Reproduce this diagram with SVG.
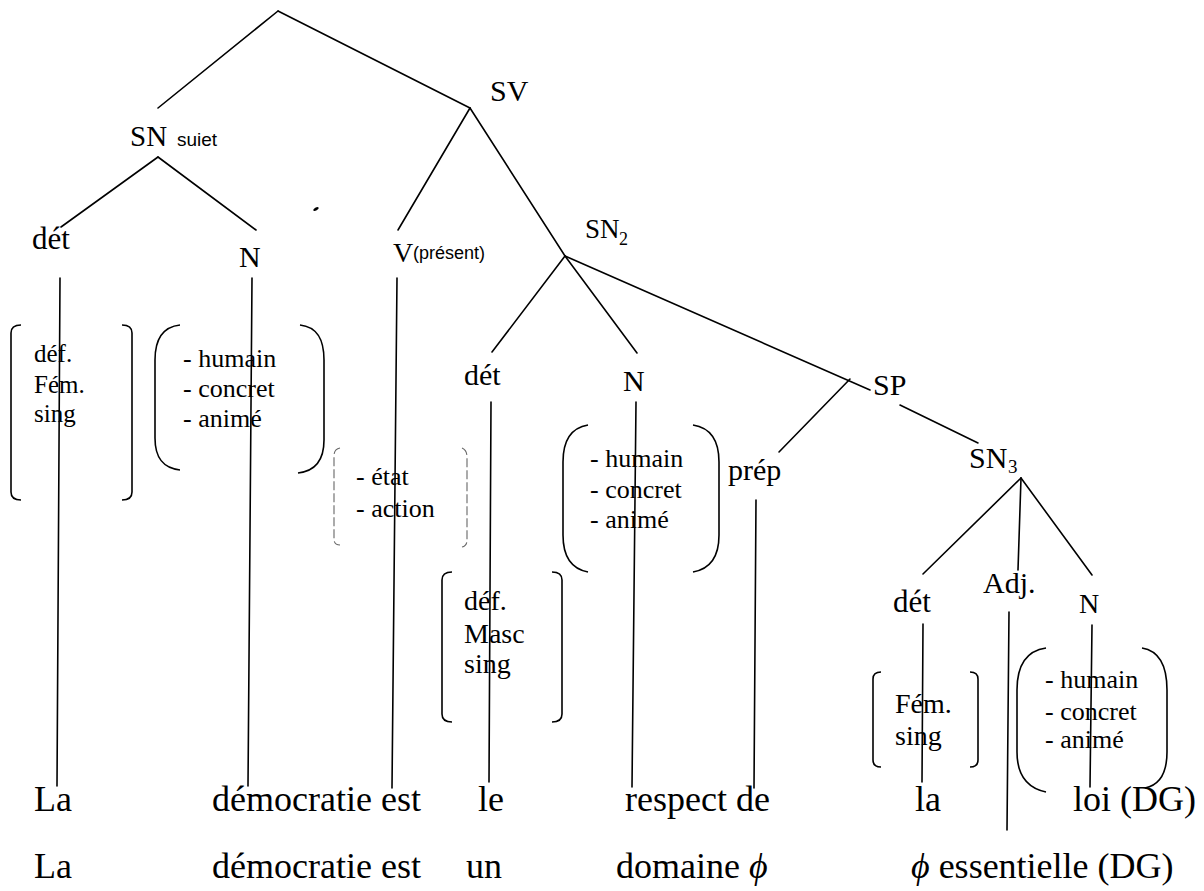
<svg xmlns="http://www.w3.org/2000/svg" width="1204" height="891" viewBox="0 0 1204 891">
<style>
text{font-family:"Liberation Serif","Times New Roman",serif;fill:#000}
.lb{font-size:30px}
.sans{font-family:"Liberation Sans",Arial,sans-serif}
.w{font-size:36px}
.f{font-size:26px}
.ln{stroke:#000;stroke-width:1.6;fill:none;stroke-linecap:round}
.br{stroke:#000;stroke-width:1.6;fill:none}
.dash{stroke:#666;stroke-width:1.1;fill:none;stroke-dasharray:9 3}
</style>
<rect width="1204" height="891" fill="#fff"/>
<g id="connectors">
<line class="ln" x1="278" y1="11" x2="158" y2="108"/>
<line class="ln" x1="278" y1="11" x2="470" y2="108"/>
<line class="ln" x1="158" y1="157" x2="61" y2="227"/>
<line class="ln" x1="158" y1="157" x2="256" y2="230"/>
<line class="ln" x1="470" y1="108" x2="398" y2="230"/>
<line class="ln" x1="470" y1="108" x2="565" y2="256"/>
<line class="ln" x1="565" y1="256" x2="492" y2="352"/>
<line class="ln" x1="565" y1="256" x2="637" y2="353"/>
<line class="ln" x1="565" y1="256" x2="870" y2="390"/>
<line class="ln" x1="850" y1="379" x2="779" y2="452"/>
<line class="ln" x1="900" y1="405" x2="978" y2="443"/>
<line class="ln" x1="1021" y1="478" x2="923" y2="574"/>
<line class="ln" x1="1021" y1="478" x2="1018" y2="570"/>
<line class="ln" x1="1021" y1="478" x2="1092" y2="575"/>
<line class="ln" x1="60" y1="278" x2="57" y2="786"/>
<line class="ln" x1="252" y1="278" x2="248" y2="786"/>
<line class="ln" x1="397" y1="278" x2="392" y2="788"/>
<line class="ln" x1="491" y1="402" x2="489" y2="782"/>
<line class="ln" x1="636" y1="402" x2="632" y2="787"/>
<line class="ln" x1="756" y1="500" x2="754" y2="788"/>
<line class="ln" x1="923" y1="624" x2="922" y2="782"/>
<line class="ln" x1="1009" y1="612" x2="1007" y2="830"/>
<line class="ln" x1="1092" y1="625" x2="1090" y2="787"/>
</g>
<g id="n-sv"><text class="lb" x="490" y="101">SV</text></g>
<g id="n-snsujet"><text x="130" y="146" font-size="29">SN</text><text class="sans" x="177" y="146" font-size="19">suiet</text></g>
<g id="n-det1"><text x="32" y="249" font-size="31">dét</text></g>
<g id="n-n1"><text class="lb" x="239" y="267">N</text></g>
<g id="n-v"><text x="393" y="262" font-size="28">V</text><text class="sans" x="413" y="259" font-size="18">(présent)</text></g>
<g id="n-sn2"><text x="585" y="238" font-size="27">SN</text><text x="619" y="245" font-size="18">2</text></g>
<g id="n-det2"><text class="lb" x="464" y="385">dét</text></g>
<g id="n-n2"><text class="lb" x="623" y="391">N</text></g>
<g id="n-sp"><text class="lb" x="873" y="395">SP</text></g>
<g id="n-prep"><text class="lb" x="728" y="480">prép</text></g>
<g id="n-sn3"><text class="lb" x="969" y="468">SN</text><text x="1008" y="473" font-size="19">3</text></g>
<g id="n-det3"><text x="893" y="612" font-size="31">dét</text></g>
<g id="n-adj"><text class="lb" x="983" y="593">Adj.</text></g>
<g id="n-n3"><text x="1079" y="613" font-size="28">N</text></g>
<g id="feat1">
<path class="br" d="M21 325 Q11 325 11 333 L11 492 Q11 500 21 500"/>
<path class="br" d="M122 325 Q132 325 132 333 L132 492 Q132 500 122 500"/>
<text x="34" y="362" font-size="25">déf.</text><text x="34" y="393" font-size="25">Fém.</text><text x="34" y="422" font-size="25">sing</text>
</g>
<g id="feat2">
<path class="br" d="M180 325 C162 327 155 340 155 360 L155 438 C155 458 163 468 180 470"/>
<path class="br" d="M300 325 C318 327 324 340 324 360 L324 440 C324 460 316 471 298 473"/>
<text class="f" x="183" y="367">- humain</text><text class="f" x="183" y="397">- concret</text><text class="f" x="183" y="427">- animé</text>
</g>
<g id="feat3">
<path class="dash" d="M340 448 Q334 449 334 456 L334 539 Q334 545 340 545"/>
<path class="dash" d="M462 448 Q467 450 467 457 L467 540 Q467 546 462 547"/>
<text class="f" x="356" y="485">- état</text><text class="f" x="356" y="517">- action</text>
</g>
<g id="feat4">
<path class="br" d="M452 572 Q442 572 442 580 L442 714 Q442 722 452 722"/>
<path class="br" d="M552 572 Q562 572 562 580 L562 714 Q562 722 552 722"/>
<text x="464" y="610" font-size="28">déf.</text><text x="464" y="643" font-size="28">Masc</text><text x="464" y="673" font-size="28">sing</text>
</g>
<g id="feat5">
<path class="br" d="M588 425 C570 428 563 442 563 462 L563 535 C563 557 572 569 588 572"/>
<path class="br" d="M693 425 C712 428 719 442 719 462 L719 535 C719 557 710 569 693 572"/>
<text class="f" x="590" y="467">- humain</text><text class="f" x="590" y="498">- concret</text><text class="f" x="590" y="528">- animé</text>
</g>
<g id="feat6">
<path class="br" d="M881 672 Q873 672 873 679 L873 760 Q873 767 881 767"/>
<path class="br" d="M970 672 Q978 672 978 679 L978 760 Q978 767 970 767"/>
<text x="895" y="713" font-size="28">Fém.</text><text x="895" y="745" font-size="28">sing</text>
</g>
<g id="feat7">
<path class="br" d="M1046 648 C1025 651 1017 668 1017 690 L1017 752 C1017 775 1027 788 1046 792"/>
<path class="br" d="M1142 648 C1160 651 1167 668 1167 690 L1167 752 C1167 772 1160 785 1145 788"/>
<text class="f" x="1045" y="688">- humain</text><text class="f" x="1045" y="720">- concret</text><text class="f" x="1045" y="748">- animé</text>
</g>
<g id="row1">
<text class="w" x="34" y="811">La</text>
<text class="w" x="212" y="811">démocratie est</text>
<text class="w" x="478" y="811">le</text>
<text class="w" x="625" y="811">respect de</text>
<text class="w" x="915" y="811">la</text>
<text class="w" x="1073" y="811">loi (DG)</text>
</g>
<g id="row2">
<text class="w" x="34" y="878">La</text>
<text class="w" x="212" y="878">démocratie est</text>
<text class="w" x="466" y="878">un</text>
<text class="w" x="616" y="878">domaine <tspan font-style="italic">ϕ</tspan></text>
<text class="w" x="911" y="878"><tspan font-style="italic">ϕ</tspan> essentielle (DG)</text>
</g>
<ellipse cx="316" cy="209" rx="3" ry="1.5" transform="rotate(-30 316 209)" fill="#000"/>
</svg>
